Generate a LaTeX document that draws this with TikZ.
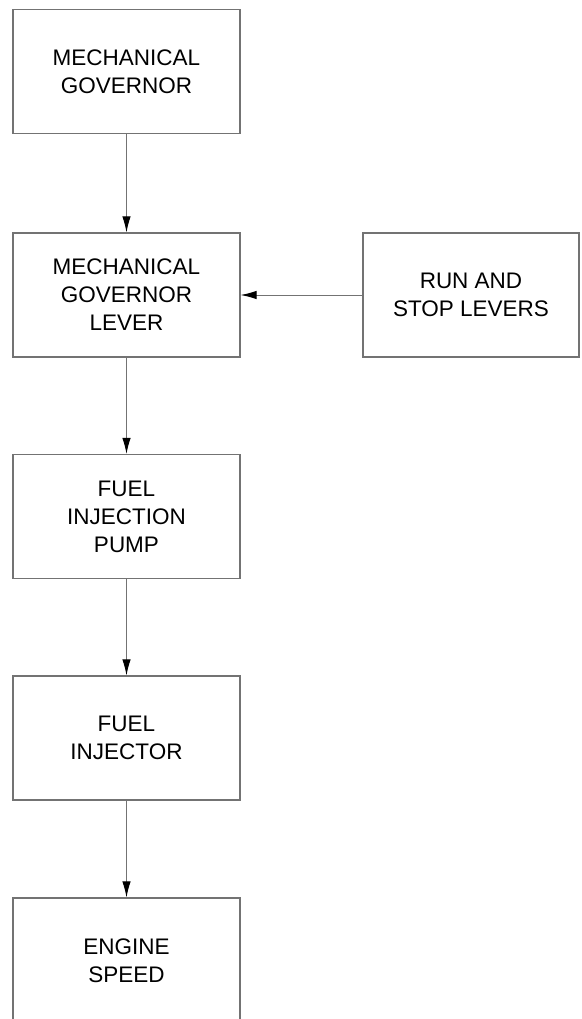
\documentclass[tikz,border=0pt]{standalone}
\usepackage{fontspec}
\setmainfont{Liberation Sans}
\usetikzlibrary{arrows.meta}
\definecolor{boxgray}{gray}{0.45}
\begin{document}
\begin{tikzpicture}[x=1pt,y=-1pt,
  blk/.style={draw=boxgray,line width=1.2pt,minimum width=227pt,minimum height=124pt,inner sep=0pt,align=center,
    font=\fontsize{22.5}{28}\selectfont,text=black},
  conn/.style={draw=boxgray,line width=1pt,-{Latex[length=16pt,width=8.5pt,color=black]}}]
\useasboundingbox (0,0) rectangle (581,1019);
\clip (0,0) rectangle (581,1019);
\node[blk] (gov) at (126.5,71.5) {MECHANICAL\\GOVERNOR};
\node[blk] (lever) at (126.5,295) {MECHANICAL\\GOVERNOR\\LEVER};
\node[blk,minimum width=216pt] (run) at (471,295) {RUN AND\\STOP LEVERS};
\node[blk] (pump) at (126.5,516.5) {FUEL\\INJECTION\\PUMP};
\node[blk] (inj) at (126.5,738) {FUEL\\INJECTOR};
\node[blk,minimum height=126pt] (eng) at (126.5,961) {ENGINE\\SPEED};
\draw[conn] (gov) -- (lever);
\draw[conn] (lever) -- (pump);
\draw[conn] (pump) -- (inj);
\draw[conn] (inj) -- (eng);
\draw[conn] (run) -- (lever);
\end{tikzpicture}
\end{document}
